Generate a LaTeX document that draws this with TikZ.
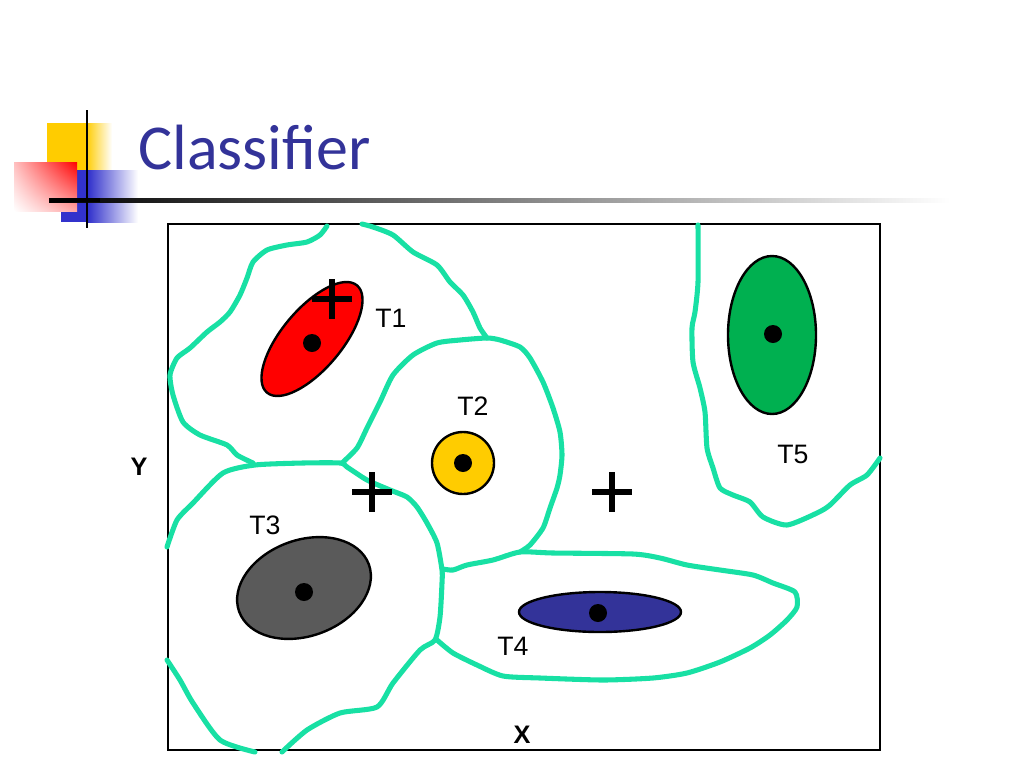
\documentclass[tikz,border=0pt]{standalone}
\usepackage{fontspec}
\usetikzlibrary{shadings}
\setmainfont{Liberation Sans}
\newfontfamily\titlefont{Carlito}
\definecolor{aqua}{RGB}{24,224,164}
\definecolor{titleblue}{RGB}{51,51,153}
\definecolor{logoyellow}{RGB}{255,204,0}
\definecolor{logoblue}{RGB}{50,50,204}
\definecolor{tgreen}{RGB}{0,176,80}
\definecolor{tgray}{RGB}{90,90,90}
\definecolor{tblue}{RGB}{51,51,153}
\begin{document}
\begin{tikzpicture}[x=0.75pt,y=-0.75pt,
        frame/.style={line width=1.6pt,black},
        region/.style={line width=3.8pt,aqua,line join=round,line cap=round},
        blob/.style={line width=1.8pt,black},
        dot/.style={fill=black},
        cross/.style={line width=3.8pt,black},
        lbl/.style={font=\fontsize{20}{22}\selectfont,inner sep=0pt},
        axislbl/.style={font=\fontsize{19}{21}\selectfont\bfseries,inner sep=0pt}]
                \useasboundingbox (0,0) rectangle (1024,768);
                % logo
                \fill[logoyellow] (47,123) rectangle (86,170);
                \shade[left color=logoyellow,right color=white] (86,123) rectangle (112,170);
                \fill[logoblue] (61,170) rectangle (88,222);
                \shade[left color=logoblue,right color=white] (88,170) rectangle (138,222);
                \shade[upper right=red,upper left=red!25,lower right=red!35,lower left=white] (14,162) rectangle (77,211);
                \shade[left color=black,right color=white] (49,198) rectangle (950,202);
                \fill[black] (49,198) rectangle (100,202);
                \draw[line width=2.2pt,black] (87,110) -- (87,228);
                \node[font=\titlefont\fontsize{48}{52}\selectfont,text=titleblue,anchor=west,inner sep=0pt] (title) at (138,148) {Classifier};
                % frame
                \draw[frame] (168,224) rectangle (880,750);
                % regions
                \draw[region] plot[smooth,tension=0.4] coordinates {(327,226) (320,235) (307,242) (287,245) (267,250) (253,262) (247,278) (240,295) (230,312) (220,322) (207,332) (190,348) (177,358) (170,375) (173,395) (183,422) (200,435) (227,445) (237,455) (253,463)};
                \draw[region] plot[smooth,tension=0.4] coordinates {(362,224) (373,227) (393,235) (413,252) (437,265) (450,282) (463,295) (473,312) (480,328) (487,338)};
                \draw[region] plot[smooth,tension=0.4] coordinates {(342,463) (357,448) (367,428) (380,402) (393,375) (413,355) (437,343) (460,340) (487,338) (500,340) (520,347) (530,358) (543,382) (553,408) (560,432) (562,455) (560,475) (557,488) (550,508) (543,528) (530,545) (520,552)};
                \draw[region] plot[smooth,tension=0.4] coordinates {(167,547) (177,520) (193,503) (223,473) (255,465) (303,463) (340,463) (347,467) (367,480) (390,490) (407,497) (417,507) (427,523) (437,543) (442,570) (442,583) (440,617) (435,640) (420,650) (393,683) (377,707) (340,713) (307,730) (282,752)};
                \draw[region] plot[smooth,tension=0.4] coordinates {(167,660) (180,680) (193,703) (220,740) (255,752)};
                \draw[region] plot[smooth,tension=0.4] coordinates {(443,569) (453,570) (467,565) (493,560) (520,552) (553,553) (633,554) (660,558) (687,565) (720,570) (753,575) (773,583) (795,592) (797,607) (787,620) (770,635) (750,648) (720,662) (687,673) (653,678) (603,680) (540,678) (503,676) (477,665) (453,653) (437,640)};
                \draw[region] plot[smooth,tension=0.4] coordinates {(698,225) (698,282) (695,312) (692,328) (693,362) (700,388) (705,412) (707,448) (713,468) (720,488) (733,495) (750,502) (763,517) (787,525) (817,513) (830,505) (850,485) (867,475) (880,458)};
                % targets
                \draw[blob,fill=red,rotate around={50:(312,339)}] (312,339) ellipse [x radius=70,y radius=30];
                \fill[dot] (312,343) circle [radius=9];
                \draw[blob,fill=logoyellow] (463,463) circle [radius=31];
                \fill[dot] (463,463) circle [radius=9];
                \draw[blob,fill=tgray,rotate around={20:(304,588)}] (304,588) ellipse [x radius=69,y radius=48];
                \fill[dot] (304,592) circle [radius=9];
                \draw[blob,fill=tblue] (600,612) ellipse [x radius=81,y radius=20];
                \fill[dot] (598,613) circle [radius=9];
                \draw[blob,fill=tgreen] (772,335) ellipse [x radius=44,y radius=79];
                \fill[dot] (773,334) circle [radius=9];
                % prototypes
                \foreach \px/\py in {332/299,372/492,612/492} {
                    \draw[cross] (\px-20,\py) -- (\px+20,\py);
                    \draw[cross] (\px,\py-20) -- (\px,\py+20);
                }
                % labels
                \node[lbl] (t1) at (391,318) {T1};
                \node[lbl] (t2) at (473,406) {T2};
                \node[lbl] (t3) at (265,525) {T3};
                \node[lbl] (t4) at (513,646) {T4};
                \node[lbl] (t5) at (793,454) {T5};
                \node[axislbl] (ylbl) at (139,467) {Y};
                \node[axislbl] (xlbl) at (522,735) {X};
            \end{tikzpicture}
\end{document}
